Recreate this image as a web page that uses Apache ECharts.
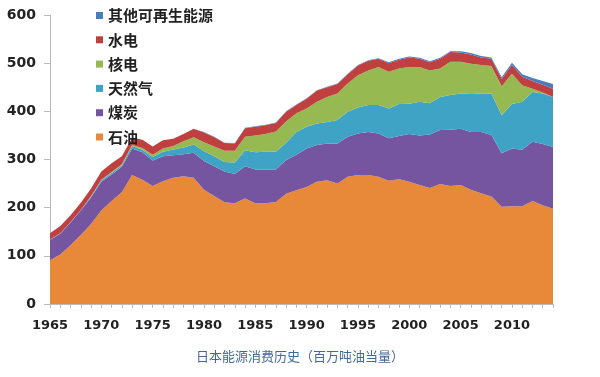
<!DOCTYPE html>
<html>
<head>
<meta charset="utf-8">
<script src="https://cdn.jsdelivr.net/npm/echarts@6/dist/echarts.min.js"></script>
<style>
  html, body { margin: 0; padding: 0; background: #fff; }
  #chart { width: 600px; height: 377px; }
</style>
</head>
<body>
<div id="chart"></div>
<script>
// 日本能源消费（百万吨油当量），1965-2014
const years = ["1965","1966","1967","1968","1969","1970","1971","1972","1973","1974",
  "1975","1976","1977","1978","1979","1980","1981","1982","1983","1984",
  "1985","1986","1987","1988","1989","1990","1991","1992","1993","1994",
  "1995","1996","1997","1998","1999","2000","2001","2002","2003","2004",
  "2005","2006","2007","2008","2009","2010","2011","2012","2013","2014"];

const oil = [91, 103, 122, 143, 166, 194, 214, 232, 268, 258,
  245, 255, 262, 265, 262, 237, 224, 211, 209, 219,
  209, 209, 212, 229, 236, 243, 254, 257, 250, 264,
  268, 268, 264, 256, 259, 254, 247, 241, 249, 245,
  247, 237, 230, 223, 202, 203, 203, 214, 205, 198];

const coal = [42, 43, 47, 51, 55, 60, 55, 53, 55, 57,
  53, 52, 47, 46, 52, 60, 62, 64, 61, 67,
  70, 70, 67, 70, 74, 80, 76, 76, 83, 83,
  86, 89, 90, 88, 90, 99, 103, 111, 112, 117,
  117, 120, 127, 128, 111, 120, 117, 123, 127, 128];

const gas = [1, 1, 1, 1, 2, 3, 3, 3, 5, 5,
  7, 9, 12, 14, 17, 20, 21, 20, 24, 33,
  36, 37, 37, 36, 47, 45, 45, 45, 49, 52,
  54, 56, 59, 62, 66, 63, 70, 65, 69, 72,
  73, 79, 80, 86, 79, 92, 100, 103, 105, 104];

const nuclear = [0, 0, 0, 0, 1, 1, 2, 2, 2, 4,
  5, 7, 7, 13, 15, 19, 20, 23, 24, 28,
  35, 37, 42, 44, 39, 38, 45, 52, 55, 59,
  67, 72, 79, 76, 74, 76, 72, 68, 59, 69,
  66, 63, 59, 57, 60, 63, 34, 7, 2, 0];

const hydro = [13, 15, 14, 15, 16, 17, 18, 17, 15, 17,
  17, 17, 15, 15, 18, 20, 19, 16, 15, 18,
  18, 18, 18, 20, 17, 20, 23, 20, 20, 19,
  20, 20, 17, 18, 18, 20, 17, 17, 20, 20,
  19, 19, 16, 15, 15, 18, 18, 16, 16, 17];

const renew = [0, 0, 0, 0, 0, 0, 0, 0, 0, 0,
  0, 0, 0, 0, 0, 1, 1, 1, 1, 1,
  1, 1, 1, 1, 1, 1, 1, 1, 1, 1,
  1, 1, 1, 2, 2, 2, 2, 2, 2, 2,
  3, 3, 3, 3, 4, 5, 5, 6, 8, 10];

const yTicks = [0, 100, 200, 300, 400, 500, 600];

const names = ["石油", "煤炭", "天然气", "核电", "水电", "其他可再生能源"];
const colors = ["#E8893A", "#7555A0", "#3FA3C6", "#97B952", "#C0403F", "#4A7CC0"];
const values = [oil, coal, gas, nuclear, hydro, renew];

let myChart = echarts.init(document.getElementById("chart"));
let option = {
  animation: false,
  title: {
    text: "日本能源消费历史（百万吨油当量）",
    left: "center",
    top: 345,
    textStyle: {
      color: "#45689A",
      fontSize: 13,
      fontWeight: "normal",
      fontFamily: "Noto Sans CJK SC"
    }
  },
  legend: {
    data: names.slice().reverse(),
    orient: "vertical",
    left: 91,
    top: 3,
    icon: "rect",
    itemWidth: 7,
    itemHeight: 7,
    itemGap: 9.3,
    textStyle: {
      color: "#222",
      fontSize: 15,
      fontWeight: "bold",
      fontFamily: "Noto Sans CJK SC"
    }
  },
  grid: {
    left: 50,
    right: 47,
    top: 15,
    bottom: 73
  },
  xAxis: {
    type: "category",
    data: years,
    boundaryGap: false,
    axisLine: { lineStyle: { color: "#bbb", width: 1 } },
    axisTick: { interval: 0, length: 4, lineStyle: { color: "#bbb" } },
    axisLabel: {
      interval: 4,
      margin: 15,
      color: "#222",
      fontSize: 13,
      fontWeight: "bold",
      fontFamily: "DejaVu Sans"
    },
    splitLine: { show: false }
  },
  yAxis: {
    type: "value",
    min: yTicks[0],
    max: yTicks[yTicks.length - 1],
    interval: 100,
    axisLine: { show: true, lineStyle: { color: "#bbb", width: 1 } },
    axisTick: { show: true, length: 6, lineStyle: { color: "#bbb" } },
    axisLabel: {
      margin: 14,
      color: "#222",
      fontSize: 14,
      fontWeight: "bold",
      fontFamily: "DejaVu Sans"
    },
    splitLine: { show: false }
  },
  series: names.map((name, i) => {
    return {
      name: name,
      type: "line",
      stack: "total",
      data: values[i],
      color: colors[i],
      showSymbol: false,
      symbol: "none",
      lineStyle: { width: 0 },
      areaStyle: { color: colors[i], opacity: 1 }
    };
  })
};
myChart.setOption(option);
window.addEventListener("resize", function() {
  myChart.resize();
});
</script>
</body>
</html>
